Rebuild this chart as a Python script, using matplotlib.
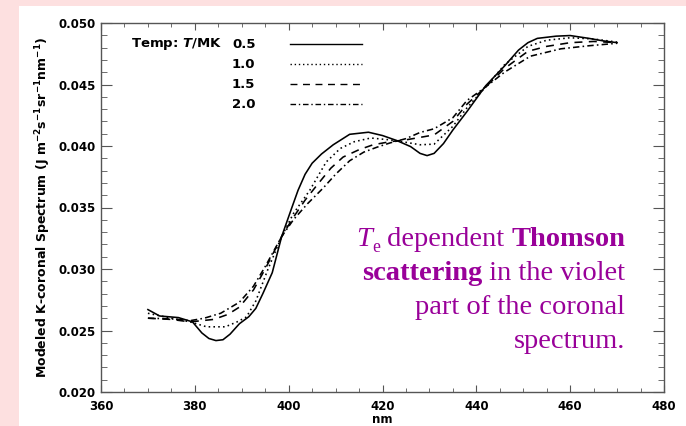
import matplotlib
matplotlib.use("Agg")
import matplotlib.pyplot as plt
from matplotlib.ticker import MultipleLocator, FormatStrFormatter

# Temperatures (MK) and read-off spectra
temps = ["0.5", "1.0", "1.5", "2.0"]

x05 = [370, 372.5, 376.5, 379.5, 381.5, 383, 384.5, 386, 387.5, 389.5, 391.5, 393, 394.5,
       396.5, 398.5, 400.5, 402, 403.5, 405, 407, 409.5, 413, 417, 420, 423, 426, 428,
       429.5, 431, 433, 435, 438, 442, 446, 449, 451, 453, 457, 460, 464, 467, 470]
y05 = [0.02670, 0.02618, 0.02605, 0.02570, 0.02480, 0.02435, 0.02418, 0.02425, 0.02470,
       0.02555, 0.02612, 0.02680, 0.02800, 0.02970, 0.03263, 0.03480, 0.03640, 0.03770,
       0.03860, 0.03935, 0.04010, 0.04095, 0.04112, 0.04085, 0.04045, 0.03995, 0.03940,
       0.03922, 0.03940, 0.04020, 0.04130, 0.04280, 0.04490, 0.04650, 0.04780, 0.04840,
       0.04875, 0.04893, 0.04898, 0.04875, 0.04855, 0.04840]

x10 = [370, 375, 379, 382.5, 386.5, 389, 391, 393, 395.5, 398.5, 401, 404.5, 408, 411,
       414, 417.5, 421.5, 425, 428, 431, 435, 438, 442, 446, 451, 455, 460, 465, 470]
y10 = [0.02640, 0.02600, 0.02570, 0.02530, 0.02530, 0.02570, 0.02610, 0.02740, 0.02990,
       0.03263, 0.03450, 0.03640, 0.03870, 0.03980, 0.04035, 0.04065, 0.04050, 0.04030,
       0.04010, 0.04015, 0.04160, 0.04310, 0.04480, 0.04660, 0.04810, 0.04860, 0.04880,
       0.04870, 0.04845]

x15 = [370, 375, 379, 384, 387, 389.5, 392.5, 395, 398.5, 401, 403.5, 406, 409, 411.6,
       415, 418, 421.6, 425, 428, 431, 435, 438, 442, 446, 451, 455, 460, 465, 470]
y15 = [0.02600, 0.02590, 0.02570, 0.02590, 0.02630, 0.02690, 0.02830, 0.03000, 0.03263,
       0.03420, 0.03560, 0.03680, 0.03820, 0.03910, 0.03970, 0.04010, 0.04035, 0.04050,
       0.04070, 0.04090, 0.04200, 0.04340, 0.04480, 0.04630, 0.04770, 0.04810, 0.04840,
       0.04850, 0.04840]

x20 = [370, 375, 379, 382, 385.5, 389.5, 392.5, 395, 398.5, 401, 404, 407.4, 410, 413,
       416, 418.8, 421.6, 425, 428, 431, 435, 438, 442, 446, 451.5, 458, 464, 470]
y20 = [0.02600, 0.02595, 0.02580, 0.02600, 0.02640, 0.02730, 0.02860, 0.03020, 0.03263,
       0.03400, 0.03530, 0.03660, 0.03770, 0.03880, 0.03950, 0.03990, 0.04025, 0.04060,
       0.04110, 0.04140, 0.04230, 0.04370, 0.04480, 0.04600, 0.04730, 0.04790, 0.04815,
       0.04835]

series = [(x05, y05, '-'), (x10, y10, (0, (1, 2))), (x15, y15, (0, (5, 4))),
          (x20, y20, (0, (4, 2, 1, 2)))]

W, H = 686, 426
fig = plt.figure(figsize=(W / 100, H / 100), dpi=100)
fig.patch.set_facecolor('#fde0e0')
# white slide panel
fig.patches.append(plt.Rectangle((19 / W, 0), 1 - 19 / W, 1 - 6 / H, transform=fig.transFigure,
                                 facecolor='white', edgecolor='none', zorder=-10))

ax = fig.add_axes([101 / W, 1 - 392 / H, 563 / W, 369 / H])
ax.set_facecolor('none')

for xs, ys, ls in series:
    ax.plot(xs, ys, color='black', lw=1.15, linestyle=ls)

ax.set_xlim(360, 480)
ax.set_ylim(0.020, 0.050)
ax.xaxis.set_major_locator(MultipleLocator(20))
ax.xaxis.set_minor_locator(MultipleLocator(5))
ax.yaxis.set_major_locator(MultipleLocator(0.005))
ax.yaxis.set_minor_locator(MultipleLocator(0.001))
ax.yaxis.set_major_formatter(FormatStrFormatter('%.3f'))

for s in ax.spines.values():
    s.set_color('#555555')
    s.set_linewidth(1.0)
ax.tick_params(axis='x', which='major', direction='in', length=5, top=True, color='#555555',
               labelsize=8.5, pad=6)
ax.tick_params(axis='x', which='minor', direction='in', length=3, top=True, color='#555555')
ax.tick_params(axis='y', which='major', direction='in', length=8, right=True, color='#555555',
               labelsize=8.5, pad=4)
ax.tick_params(axis='y', which='minor', direction='in', length=4, right=True, color='#555555')
for lab in ax.get_xticklabels() + ax.get_yticklabels():
    lab.set_fontweight('bold')

ax.set_xlabel('nm', fontsize=8.5, fontweight='bold', labelpad=0)
ax.set_ylabel(r'Modeled K-coronal Spectrum (J m$^{\mathbf{-2}}$s$^{\mathbf{-1}}$sr$^{\mathbf{-1}}$nm$^{\mathbf{-1}}$)',
              fontsize=9, fontweight='bold', labelpad=4)

# legend block
def fx(px):
    return (px - 101) / 563

def fy(py):
    return 1 - (py - 23) / 369

ax.text(fx(222), fy(44), r'Temp: $\boldsymbol{T}$/MK', transform=ax.transAxes, ha='right',
        va='center', fontsize=9.5, fontweight='bold')
for i, (t, (xs, ys, ls)) in enumerate(zip(temps, series)):
    py = 44 + 20 * i
    ax.text(fx(232), fy(py), t, transform=ax.transAxes, ha='left', va='center',
            fontsize=9.5, fontweight='bold')
    ax.plot([fx(290), fx(362)], [fy(py), fy(py)], transform=ax.transAxes, color='black',
            lw=1.0, linestyle=ls)

# annotation, built right to left from styled pieces
purple = '#990099'
fs = 20.5
lines = [
    [('T', dict(style='italic')), ('e', dict(sub=True)), (' dependent ', {}),
     ('Thomson', dict(weight='bold'))],
    [('scattering', dict(weight='bold')), (' in the violet', {})],
    [('part of the coronal', {})],
    [('spectrum.', {})],
]
renderer = fig.canvas.get_renderer()
for i, pieces in enumerate(lines):
    xr = 625
    base = H - (246 + 34 * i)
    for txt, st in reversed(pieces):
        size = fs * 0.62 if st.get('sub') else fs
        yb = base - 6 if st.get('sub') else base
        t = fig.text(xr / W, yb / H, txt.replace(' ', '\u00a0'), ha='right', va='baseline',
                     fontsize=size, color=purple, family='Liberation Serif',
                     style=st.get('style', 'normal'), weight=st.get('weight', 'normal'))
        bb = t.get_window_extent(renderer)
        xr = bb.x0

fig.savefig('out.png', dpi=100)
